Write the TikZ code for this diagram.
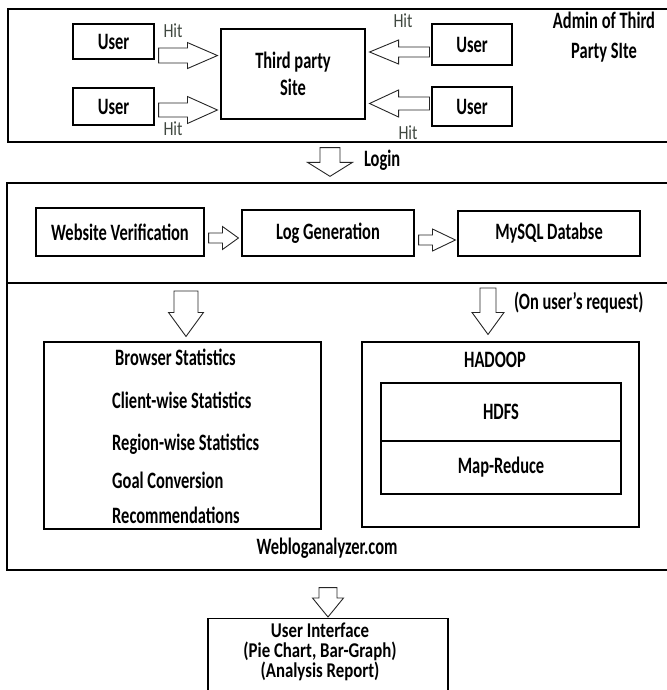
\documentclass[tikz,border=0pt]{standalone}
\usepackage{fontspec}
\setmainfont[FakeStretch=0.70]{Carlito}
\newfontfamily\uifont[FakeStretch=0.80]{Carlito}
\usepackage{xcolor}
\usepackage{tikz}
\usetikzlibrary{positioning,calc}
\definecolor{hitgray}{HTML}{404840}
\newcommand{\fatarrow}[5]{%
  \path (#1) coordinate (fa-s) (#2) coordinate (fa-e);
  \path ($(fa-e)!#5!(fa-s)$) coordinate (fa-h);
  \draw[fat] ($(fa-s)!#3!90:(fa-e)$) -- ($(fa-h)!#3!90:(fa-e)$) -- ($(fa-h)!#4!90:(fa-e)$) -- (fa-e)
    -- ($(fa-h)!#4!-90:(fa-e)$) -- ($(fa-h)!#3!-90:(fa-e)$) -- ($(fa-s)!#3!-90:(fa-e)$) -- cycle;}

\begin{document}
\fontsize{23.5}{28}\selectfont
\begin{tikzpicture}[x=1pt,y=-1pt,
  box/.style={draw, line width=1.1pt, inner sep=0pt, font=\bfseries},
  frame/.style={draw, line width=1.3pt, inner sep=0pt},
  fat/.style={draw=black!85, line width=0.9pt, fill=white, line join=miter},
  txt/.style={font=\bfseries},
  hit/.style={text=hitgray, font=\uifont\fontsize{20}{24}\selectfont}]
\useasboundingbox (0,0) rectangle (666,690);
\node[frame, minimum width=672, minimum height=133] (site) at (344,75.5) {};
\node[frame, minimum width=673, minimum height=387] (web) at (343.5,376.5) {};
\node[box, minimum width=81, minimum height=35] (u1) at (113.5,41.5) {User};
\node[box, minimum width=81, minimum height=37] (u2) at (113.5,106.5) {User};
\node[box, minimum width=144, minimum height=90, align=center, font=\fontsize{23.5}{27}\selectfont\bfseries] (tp) at (293,74) {Third party\\Site};
\node[box, minimum width=80, minimum height=41] (u3) at (472,44.5) {User};
\node[box, minimum width=80, minimum height=39] (u4) at (472,106.5) {User};
\node[align=center, font=\fontsize{23.5}{30}\selectfont\bfseries] (admin) at (604,37) {Admin of Third\\Party SIte};
\node[hit] (hit1) at (173,31) {Hit};
\node[hit] (hit2) at (403,21) {Hit};
\node[hit] (hit3) at (173,129) {Hit};
\node[hit] (hit4) at (408,133) {Hit};
\fatarrow{$(u1.south east)+(4,-4)$}{$(tp.west|-u1.south)+(-3,-4)$}{7.5pt}{13pt}{30pt}
\fatarrow{$(u2.east)+(4,3.5)$}{$(tp.west|-u2.east)+(-3,3.5)$}{7pt}{13.5pt}{30pt}
\fatarrow{$(u3.west)+(-2,7.5)$}{$(tp.east|-u3.west)+(4,7.5)$}{5pt}{12pt}{29pt}
\fatarrow{$(u4.west)+(-2,-3)$}{$(tp.east|-u4.west)+(4,-3)$}{6.5pt}{13.5pt}{29pt}
\fatarrow{$(site.south)+(-14,5)$}{$(web.north)+(-13.5,-6)$}{10pt}{22.5pt}{14pt}
\node[txt, anchor=west] (login) at (356,160) {Login};
\node[box, minimum width=168, minimum height=48] (wv) at (120,232) {Website Verification};
\node[box, minimum width=172, minimum height=46] (lg) at (328,233) {Log Generation};
\node[box, minimum width=182, minimum height=45] (db) at (549,233.5) {MySQL Databse};
\fatarrow{$(wv.east)+(4,6)$}{$(lg.west|-wv.east)+(-3,6)$}{5pt}{11.5pt}{16pt}
\fatarrow{$(lg.east)+(4,7)$}{$(db.west|-lg.east)+(-2,7)$}{5pt}{11pt}{23pt}
\coordinate (sepl) at (7,283);
\coordinate (sepr) at (680,283);
\draw[line width=2.6pt] (sepl) -- (sepr);
\node[box, minimum width=277, minimum height=187] (bs) at (182.5,435.5) {};
\foreach \i/\t/\x/\y in {1/Browser Statistics/115/365, 2/Client-wise Statistics/112/408, 3/Region-wise Statistics/112/450, 4/Goal Conversion/112/488, 5/Recommendations/112/523}
  \node[txt, anchor=base west, inner sep=0pt] (st\i) at (\x,\y) {\t};
\node[box, minimum width=277, minimum height=185] (hd) at (500.5,434.5) {};
\node[txt] (hadoop) at (495,360) {HADOOP};
\node[box, minimum width=240, minimum height=58] (hdfs) at (501,412) {HDFS};
\node[box, minimum width=240, minimum height=53] (mr) at (501,467.5) {Map-Reduce};
\fatarrow{$(bs.north|-sepl)+(3.5,8)$}{$(bs.north)+(3.5,-5)$}{12pt}{17.5pt}{24pt}
\fatarrow{$(hd.north|-sepl)+(-12.5,5)$}{$(hd.north)+(-12.5,-7)$}{8pt}{16pt}{22pt}
\node[txt, anchor=west] (req) at (506,303) {(On user's request)};
\node[txt] (wla) at (327,548) {Webloganalyzer.com};
\node[box, minimum width=240, minimum height=100, anchor=north] (ui) at (328,618) {};
\node[align=center, font=\uifont\fontsize{21}{21}\selectfont\bfseries] (uitxt) at (320,652) {User Interface\\[-1pt](Pie Chart, Bar-Graph)\\[-1pt](Analysis Report)};
\fatarrow{$(web.south)+(-15.5,17)$}{$(ui.north)+(0,-1)$}{9pt}{15.5pt}{19pt}
\end{tikzpicture}
\end{document}
